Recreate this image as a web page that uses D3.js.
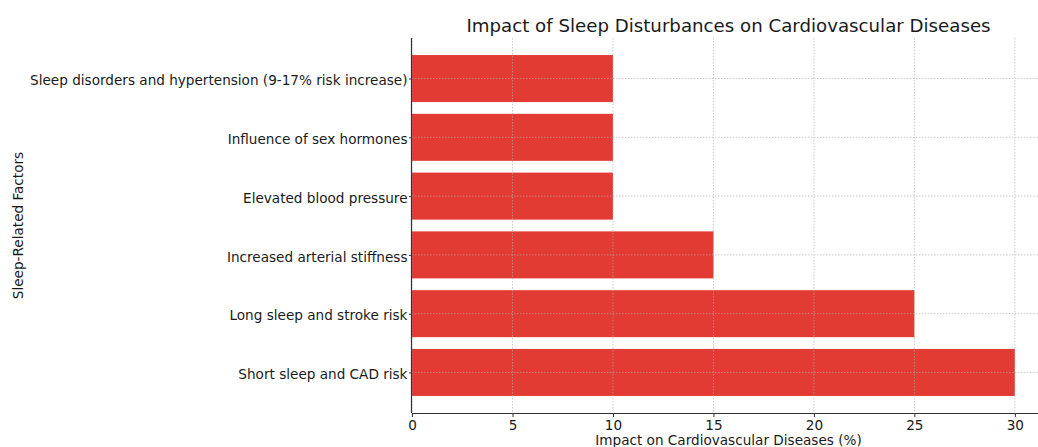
<!DOCTYPE html>
<html>
<head>
<meta charset="utf-8">
<script src="https://cdn.jsdelivr.net/npm/d3@7"></script>
<style>
  html, body { margin: 0; padding: 0; background: #fff; }
  svg { display: block; }
  text { font-family: "DejaVu Sans", sans-serif; fill: #1a1a1a; }
</style>
</head>
<body>
<svg id="chart" width="1038" height="447"></svg>
<script>
// Data (bottom to top, as in the original)
const categories = [
  "Short sleep and CAD risk",
  "Long sleep and stroke risk",
  "Increased arterial stiffness",
  "Elevated blood pressure",
  "Influence of sex hormones",
  "Sleep disorders and hypertension (9-17% risk increase)"
];
const values = [30, 25, 15, 10, 10, 10];
const xTicks = [0, 5, 10, 15, 20, 25, 30];
const title = "Impact of Sleep Disturbances on Cardiovascular Diseases";
const xLabel = "Impact on Cardiovascular Diseases (%)";
const yLabel = "Sleep-Related Factors";

(function () {
const svg = d3.select("#chart");
const mLeft = 412, mRight = 1045, mTop = 38, mBottom = 413;
const barColor = "#e23b33";
const fs = 13.6;

const x = d3.scaleLinear().domain([0, 31.5]).range([mLeft, mRight]);
const n = categories.length;
const pad = 0.05 * (n - 1 + 0.8);
const y = d3.scaleLinear().domain([-0.4 - pad, n - 1 + 0.4 + pad]).range([mBottom, mTop]);
const barH = 0.8;

// bars
svg.append("g").selectAll("rect").data(values).join("rect")
  .attr("x", x(0))
  .attr("y", (d, i) => y(i + barH / 2))
  .attr("width", d => x(d) - x(0))
  .attr("height", y(0) - y(barH))
  .attr("fill", barColor);

// grid (drawn above bars as in matplotlib default)
const grid = svg.append("g").attr("stroke", "#b0b0b0").attr("stroke-width", 0.8)
  .attr("stroke-dasharray", "1.5,1.5").attr("opacity", 0.8);
grid.selectAll("line.v").data(xTicks).join("line").attr("class", "v")
  .attr("x1", d => x(d)).attr("x2", d => x(d)).attr("y1", mTop).attr("y2", mBottom);
grid.selectAll("line.h").data(d3.range(n)).join("line").attr("class", "h")
  .attr("x1", mLeft).attr("x2", mRight).attr("y1", d => y(d)).attr("y2", d => y(d));

// axes
const xAxis = d3.axisBottom(x).tickValues(xTicks).tickSize(4).tickPadding(3).tickFormat(d3.format("d"));
const gx = svg.append("g").attr("transform", `translate(0,${mBottom})`).call(xAxis);
gx.select(".domain").attr("d", `M${mLeft},0.5H${mRight}`).attr("stroke", "#333").attr("stroke-width", 1.2);
gx.selectAll(".tick line").attr("stroke", "#333");
gx.selectAll(".tick text").attr("font-size", fs).attr("font-family", "DejaVu Sans").attr("fill", "#111");

const yAxis = d3.axisLeft(y).tickValues(d3.range(n)).tickSize(3).tickPadding(1.5).tickFormat(i => categories[i]);
const gy = svg.append("g").attr("transform", `translate(${mLeft},0)`).call(yAxis);
gy.select(".domain").attr("d", `M-0.5,${mTop}V${mBottom}`).attr("stroke", "#333").attr("stroke-width", 1.2);
gy.selectAll(".tick line").attr("stroke", "#333");
gy.selectAll(".tick text").attr("font-size", fs).attr("font-family", "DejaVu Sans").attr("fill", "#111")
  .attr("dy", "0.45em");

// title & labels
svg.append("text").attr("x", (mLeft + mRight) / 2).attr("y", 32)
  .attr("text-anchor", "middle").attr("font-size", 18.2).attr("fill", "#222").text(title);
svg.append("text").attr("x", (mLeft + mRight) / 2).attr("y", 445)
  .attr("text-anchor", "middle").attr("font-size", fs).text(xLabel);
svg.append("text").attr("transform", `translate(23,${(mTop + mBottom) / 2}) rotate(-90)`)
  .attr("text-anchor", "middle").attr("font-size", fs).text(yLabel);
})();
</script>
</body>
</html>
